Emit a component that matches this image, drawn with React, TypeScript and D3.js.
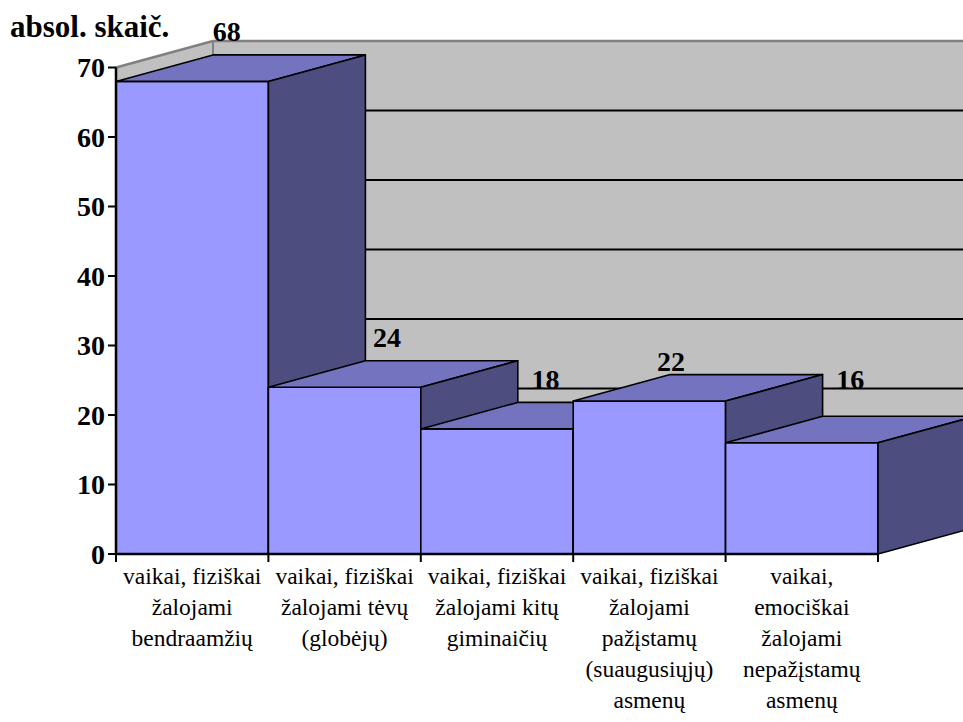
import * as d3 from 'd3';
import React from 'react';

const categories: string[][] = [
  ['vaikai, fiziškai', 'žalojami', 'bendraamžių'],
  ['vaikai, fiziškai', 'žalojami tėvų', '(globėjų)'],
  ['vaikai, fiziškai', 'žalojami kitų', 'giminaičių'],
  ['vaikai, fiziškai', 'žalojami', 'pažįstamų', '(suaugusiųjų)', 'asmenų'],
  ['vaikai,', 'emociškai', 'žalojami', 'nepažįstamų', 'asmenų'],
];
const values: number[] = [68, 24, 18, 22, 16];
const yTicks: number[] = [0, 10, 20, 30, 40, 50, 60, 70];
const yTitle = 'absol. skaič.';

const W = 963;
const H = 722;
const plot = { left: 116, right: 878, top: 67.5, bottom: 554 };
const depth = { dx: 97, dy: -26.5 };
// Excel moved some value labels to keep them clear of the bars
const labelNudge: [number, number][] = [
  [-14, 0],
  [-6, 0],
  [0, 0],
  [-27, 10],
  [0, -14],
];

const colors = {
  front: '#9999FF',
  top: '#7373BF',
  side: '#4D4D80',
  wall: '#C0C0C0',
  wallEdge: '#808080',
};

const font = "'Liberation Serif', serif";

export default function App() {
  const x = d3
    .scaleBand<number>()
    .domain(values.map((_, i) => i))
    .range([plot.left, plot.right])
    .padding(0);
  const y = d3.scaleLinear().domain([0, 70]).range([plot.bottom, plot.top]);

  const bw = x.bandwidth();
  const { dx, dy } = depth;
  const pts = (p: [number, number][]) => p.map((q) => q.join(',')).join(' ');

  const wallTop = y(70) + dy;
  const wallBottom = y(0) + dy;
  const backLeft = plot.left + dx;
  const backRight = plot.right + dx;

  return (
    <svg
      width={W}
      height={H}
      style={{ position: 'absolute', left: 0, top: 0, background: '#fff', fontFamily: font }}
    >
      {/* back wall */}
      <rect
        x={backLeft}
        y={wallTop}
        width={backRight - backLeft}
        height={wallBottom - wallTop}
        fill={colors.wall}
      />
      <line x1={backLeft} x2={backRight} y1={wallTop} y2={wallTop} stroke={colors.wallEdge} strokeWidth={2.5} />
      {yTicks
        .filter((t) => t > 0 && t < 70)
        .map((t) => (
          <line
            key={t}
            x1={backLeft}
            x2={backRight}
            y1={y(t) + dy}
            y2={y(t) + dy}
            stroke="#000"
            strokeWidth={2}
          />
        ))}
      {/* side wall */}
      <polygon
        points={pts([
          [plot.left, y(70)],
          [backLeft, wallTop],
          [backLeft, wallBottom],
          [plot.left, y(0)],
        ])}
        fill={colors.wall}
      />
      <line x1={plot.left} y1={y(70)} x2={backLeft} y2={wallTop} stroke={colors.wallEdge} strokeWidth={2.5} />
      <line x1={backLeft} y1={wallTop} x2={backLeft} y2={wallBottom} stroke={colors.wallEdge} strokeWidth={2} />

      {/* bars */}
      {values.map((v, i) => {
        const x0 = x(i) ?? 0;
        const x1 = x0 + bw;
        const yt = y(v);
        const yb = y(0);
        return (
          <g key={i} stroke="#000" strokeWidth={1.6} strokeLinejoin="round">
            <rect x={x0} y={yt} width={bw} height={yb - yt} fill={colors.front} />
            <polygon
              points={pts([
                [x0, yt],
                [x0 + dx, yt + dy],
                [x1 + dx, yt + dy],
                [x1, yt],
              ])}
              fill={colors.top}
            />
            <polygon
              points={pts([
                [x1, yt],
                [x1 + dx, yt + dy],
                [x1 + dx, yb + dy],
                [x1, yb],
              ])}
              fill={colors.side}
            />
          </g>
        );
      })}

      {/* value labels */}
      {values.map((v, i) => {
        const cx = (x(i) ?? 0) + bw / 2 + dx / 2 + labelNudge[i][0];
        const cy = y(v) + dy / 2 - 27 + labelNudge[i][1];
        return (
          <text key={i} x={cx} y={cy} textAnchor="middle" fontWeight="bold" fontSize={28}>
            {v}
          </text>
        );
      })}

      {/* y axis */}
      <line x1={plot.left} x2={plot.left} y1={y(70)} y2={y(0)} stroke="#000" strokeWidth={2.5} />
      {yTicks.map((t) => (
        <g key={t}>
          <line x1={plot.left - 8} x2={plot.left} y1={y(t)} y2={y(t)} stroke="#000" strokeWidth={2} />
          <text x={plot.left - 11} y={y(t)} dy="0.35em" textAnchor="end" fontWeight="bold" fontSize={28}>
            {t}
          </text>
        </g>
      ))}

      {/* x axis */}
      <line x1={plot.left} x2={plot.right} y1={y(0)} y2={y(0)} stroke="#000" strokeWidth={2.5} />
      {d3.range(values.length + 1).map((i) => {
        const xx = plot.left + i * bw;
        return <line key={i} x1={xx} x2={xx} y1={y(0)} y2={y(0) + 8} stroke="#000" strokeWidth={2} />;
      })}
      {categories.map((lines, i) => (
        <text key={i} textAnchor="middle" fontSize={23.5}>
          {lines.map((ln, j) => (
            <tspan key={j} x={(x(i) ?? 0) + bw / 2} y={584 + j * 31}>
              {ln}
            </tspan>
          ))}
        </text>
      ))}

      <text x={10} y={37} fontWeight="bold" fontSize={31}>
        {yTitle}
      </text>
    </svg>
  );
}
